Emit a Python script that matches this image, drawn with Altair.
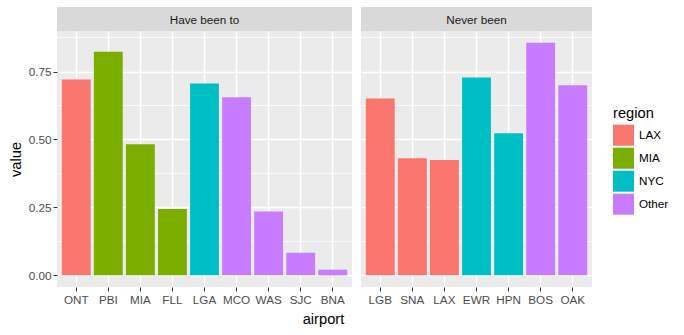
import altair as alt
import pandas as pd

# ---- data ----
have_airports = ["ONT", "PBI", "MIA", "FLL", "LGA", "MCO", "WAS", "SJC", "BNA"]
have_values = [0.721, 0.823, 0.482, 0.244, 0.706, 0.655, 0.235, 0.083, 0.021]
have_regions = ["LAX", "MIA", "MIA", "MIA", "NYC", "Other", "Other", "Other", "Other"]

never_airports = ["LGB", "SNA", "LAX", "EWR", "HPN", "BOS", "OAK"]
never_values = [0.651, 0.431, 0.424, 0.728, 0.523, 0.856, 0.699]
never_regions = ["LAX", "LAX", "LAX", "NYC", "NYC", "Other", "Other"]

panel_labels = ["Have been to", "Never been"]
region_levels = ["LAX", "MIA", "NYC", "Other"]
region_colors = ["#F8766D", "#7CAE00", "#00BFC4", "#C77CFF"]

major_breaks = [0, 0.25, 0.5, 0.75]
minor_breaks = [0.125, 0.375, 0.625, 0.875]
y_domain = [-0.0428, 0.899]

FONT = "Liberation Sans"
PANEL_H = 256
STEP = 32.07
STRIP_H = 24


def panel(airports, values, regions, label, first):
    df = pd.DataFrame({"airport": airports, "value": values, "region": regions})
    width = round(STEP * (len(airports) + 0.2))
    yscale = alt.Scale(domain=y_domain, nice=False, zero=False)

    if first:
        yaxis = alt.Axis(values=major_breaks, format=".2f", title="value",
                         tickSize=4, tickColor="#333333", labelPadding=2,
                         labelColor="#4D4D4D", labelFontSize=11.7, labelFont=FONT,
                         titleFont=FONT, titleFontSize=14.7, titleFontWeight="normal",
                         titleColor="#000000", titlePadding=5,
                         domain=False, grid=True, gridColor="white", gridWidth=1.4)
        xaxis = alt.Axis(title="airport", titleX=266, titleY=36, titleAlign="center",
                         titleBaseline="alphabetic", titleFont=FONT, titleFontSize=14.7,
                         titleFontWeight="normal", titleColor="#000000",
                         labelAngle=0, tickSize=4, tickColor="#333333", labelPadding=3,
                         labelColor="#4D4D4D", labelFontSize=11.7, labelFont=FONT,
                         domain=False, grid=True, gridColor="white", gridWidth=1.4,
                         bandPosition=0.5)
    else:
        yaxis = alt.Axis(values=major_breaks, title=None, labels=False, ticks=False,
                         domain=False, grid=True, gridColor="white", gridWidth=1.4)
        xaxis = alt.Axis(title=None, labelAngle=0, tickSize=4, tickColor="#333333",
                         labelPadding=3, labelColor="#4D4D4D", labelFontSize=11.7,
                         labelFont=FONT, domain=False, grid=True, gridColor="white",
                         gridWidth=1.4, bandPosition=0.5)

    minor = alt.Chart(pd.DataFrame({"v": minor_breaks})).mark_rule(
        color="white", strokeWidth=0.7
    ).encode(y=alt.Y("v:Q", scale=yscale, axis=yaxis))

    bars = alt.Chart(df).mark_bar().encode(
        x=alt.X("airport:N", sort=airports, axis=xaxis,
                scale=alt.Scale(paddingInner=0.1, paddingOuter=0.15)),
        y=alt.Y("value:Q", scale=yscale, axis=yaxis),
        color=alt.Color("region:N",
                        scale=alt.Scale(domain=region_levels, range=region_colors),
                        legend=alt.Legend(title="region", orient="none",
                                          legendX=556, legendY=75,
                                          symbolType="square", symbolSize=441,
                                          symbolStrokeWidth=0, symbolOpacity=1,
                                          rowPadding=2, labelOffset=5,
                                          titleFont=FONT, titleFontSize=14.7,
                                          titleFontWeight="normal", titleColor="#000000",
                                          titlePadding=4, labelFont=FONT,
                                          labelFontSize=11.7, labelColor="#000000")),
    )

    lab = pd.DataFrame({"label": [label]})
    strip_bg = alt.Chart(lab).mark_rect(color="#D9D9D9", clip=False).encode(
        x=alt.value(0), x2=alt.value(width),
        y=alt.value(-STRIP_H), y2=alt.value(0),
    )
    strip_txt = alt.Chart(lab).mark_text(
        font=FONT, fontSize=11.7, color="#1A1A1A", baseline="middle", align="center",
        clip=False,
    ).encode(text="label:N", x=alt.value(width / 2), y=alt.value(-STRIP_H / 2 + 0.5))

    return alt.layer(minor, bars, strip_bg, strip_txt).properties(
        width=width, height=PANEL_H,
        view=alt.ViewBackground(fill="#EBEBEB", stroke=None),
    )


left = panel(have_airports, have_values, have_regions, panel_labels[0], True)
right = panel(never_airports, never_values, never_regions, panel_labels[1], False)

chart = alt.hconcat(left, right, spacing=7).resolve_scale(
    x="independent", y="shared", color="shared"
).resolve_axis(x="independent", y="independent").properties(
    padding={"left": 8, "top": 7, "right": 5, "bottom": 5},
    background="white",
).configure_view(stroke=None)

chart.save("out.html", embed_options={"renderer": "svg", "actions": False})
